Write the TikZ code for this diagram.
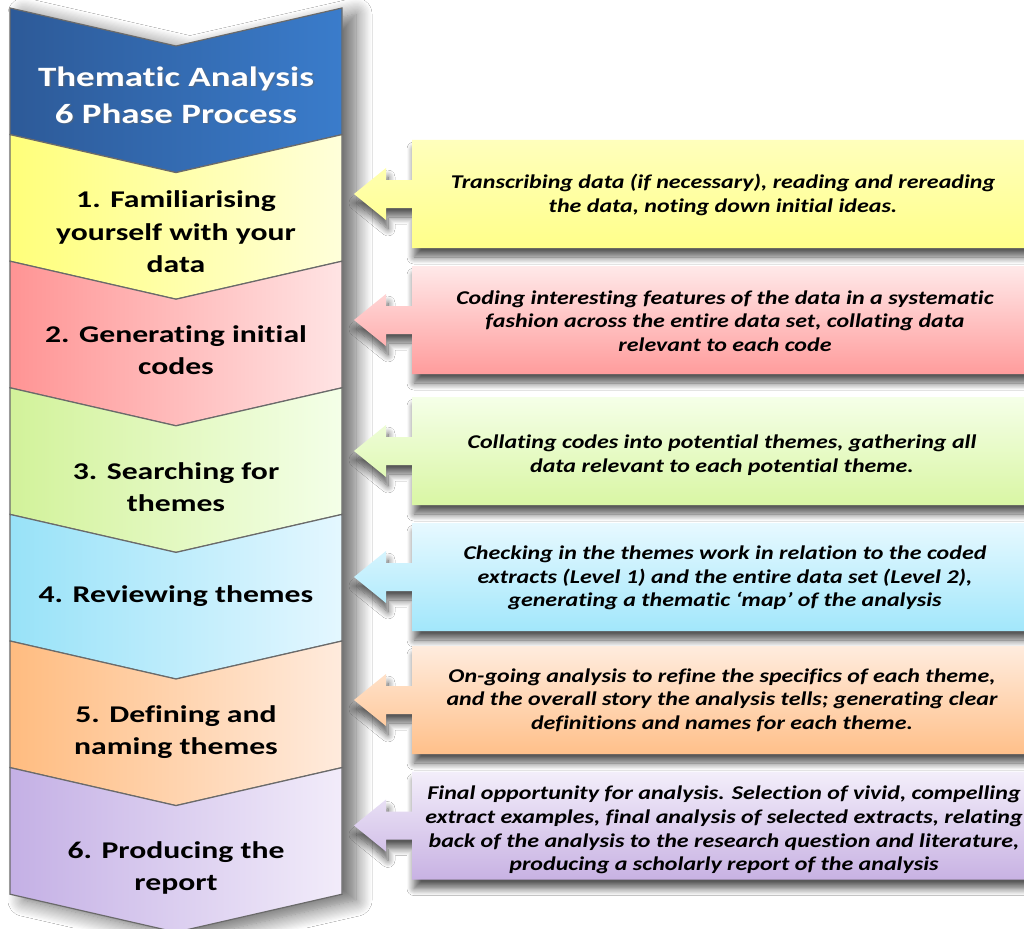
\documentclass[tikz,border=0pt]{standalone}
\usepackage{fontspec}
\setmainfont{Carlito}
\newfontfamily\chevfont[FakeStretch=1.32, Ligatures=NoCommon]{Carlito}
\newfontfamily\descfont[FakeStretch=1.23, Ligatures=NoCommon]{Carlito}
\usetikzlibrary{shadows.blur}
\definecolor{blueL}{HTML}{2D5A98}
\definecolor{blueR}{HTML}{3A7CCB}
\definecolor{yelL}{HTML}{FFFF7A}
\definecolor{yelR}{HTML}{FFFFDA}
\definecolor{pinkL}{HTML}{FF9494}
\definecolor{pinkR}{HTML}{FFE4E4}
\definecolor{grnL}{HTML}{D2F29A}
\definecolor{grnR}{HTML}{F4FFE8}
\definecolor{cyaL}{HTML}{98E2F8}
\definecolor{cyaR}{HTML}{E4F7FF}
\definecolor{oraL}{HTML}{FFBC80}
\definecolor{oraR}{HTML}{FFEBDD}
\definecolor{purL}{HTML}{C4B0E5}
\definecolor{purR}{HTML}{F2ECFA}
\definecolor{yelT}{HTML}{FFFFBC}
\definecolor{yelB}{HTML}{FFFF8A}
\definecolor{pinkT}{HTML}{FFE9E9}
\definecolor{pinkB}{HTML}{FF9C9C}
\definecolor{grnT}{HTML}{F5FFE8}
\definecolor{grnB}{HTML}{D9F6A4}
\definecolor{cyaT}{HTML}{E7F9FF}
\definecolor{cyaB}{HTML}{A2E7FB}
\definecolor{oraT}{HTML}{FFECDE}
\definecolor{oraB}{HTML}{FFC08A}
\definecolor{purT}{HTML}{F3EEFA}
\definecolor{purB}{HTML}{C8B2E3}
\definecolor{edgegray}{HTML}{6A6A6A}
\tikzset{
  chevstyle/.style={draw=edgegray, line width=1.2pt, line join=miter},
  boxstyle/.style={blur shadow={shadow xshift=2pt, shadow yshift=-9pt, shadow blur radius=7pt, shadow blur steps=10, shadow opacity=65}},
  phasetext/.style={align=center, text=black, font=\chevfont\bfseries\fontsize{24}{32.5}\selectfont},
  titletext/.style={align=center, text=white, font=\chevfont\bfseries\fontsize{28}{37}\selectfont},
  desctext/.style={align=center, text=black, font=\descfont\bfseries\itshape\fontsize{19.5}{23.6}\selectfont}
}
\newcommand\chevshape[3]{%
  \path[chevstyle, left color=#2, right color=#3]
    (10,#1) -- (176,{#1+38}) -- (342,#1) -- (342,{#1+126.6}) -- (176,{#1+164.6}) -- (10,{#1+126.6}) -- cycle;}
\newcommand\descbox[3]{%
  \path[boxstyle, top color=#2, bottom color=#3]
    (354,#1) -- (386,{#1-26}) -- (386,{#1-14}) -- (412,{#1-14}) -- (412,{#1-54}) -- (1060,{#1-54})
    -- (1060,{#1+54}) -- (412,{#1+54}) -- (412,{#1+14}) -- (386,{#1+14}) -- (386,{#1+26}) -- cycle;}
\begin{document}
\begin{tikzpicture}[x=1pt, y=-1pt]
\useasboundingbox (0,0) rectangle (1024,928);
\clip (0,0) rectangle (1024,928);
\fill[white] (0,0) rectangle (1024,928);
% column shadow
\path[fill=white, blur shadow={shadow xshift=14pt, shadow yshift=-6pt, shadow blur radius=16pt, shadow blur steps=14, shadow opacity=60}]
  (10,8) -- (176,46) -- (342,8) -- (342,894.2) -- (176,932.2) -- (10,894.2) -- cycle;
% chevrons
\chevshape{8}{blueL}{blueR}
\chevshape{134.6}{yelL}{yelR}
\chevshape{261.2}{pinkL}{pinkR}
\chevshape{387.8}{grnL}{grnR}
\chevshape{514.4}{cyaL}{cyaR}
\chevshape{641}{oraL}{oraR}
\chevshape{767.6}{purL}{purR}
% chevron texts
\node[titletext, text=black!60, opacity=0.5] at (177.5,96.5) {Thematic Analysis\\6 Phase Process};
\node[titletext] (p0) at (176,95) {Thematic Analysis\\6 Phase Process};
\node[phasetext] (p1) at (176,232) {1. Familiarising\\yourself with your\\data};
\node[phasetext] (p2) at (176,350) {2. Generating initial\\codes};
\node[phasetext] (p3) at (176,487) {3. Searching for\\themes};
\node[phasetext] (p4) at (176,596) {4. Reviewing themes};
\node[phasetext] (p5) at (176,732) {5. Defining and\\naming themes};
\node[phasetext] (p6) at (176,868) {6. Producing the\\report};
% description boxes
\descbox{194}{yelT}{yelB}
\descbox{320}{pinkT}{pinkB}
\descbox{451}{grnT}{grnB}
\descbox{577}{cyaT}{cyaB}
\descbox{700}{oraT}{oraB}
\descbox{825.5}{purT}{purB}
\node[desctext] (d1) at (723,195) {Transcribing data (if necessary), reading and rereading\\the data, noting down initial ideas.};
\node[desctext] (d2) at (725,321) {Coding interesting features of the data in a systematic\\fashion across the entire data set, collating data\\relevant to each code};
\node[desctext] (d3) at (722,455) {Collating codes into potential themes, gathering all\\data relevant to each potential theme.};
\node[desctext] (d4) at (725,578) {Checking in the themes work in relation to the coded\\extracts (Level 1) and the entire data set (Level 2),\\generating a thematic ‘map’ of the analysis};
\node[desctext] (d5) at (722,700) {On-going analysis to refine the specifics of each theme,\\and the overall story the analysis tells; generating clear\\definitions and names for each theme.};
\node[desctext] (d6) at (724,830) {Final opportunity for analysis. Selection of vivid, compelling\\extract examples, final analysis of selected extracts, relating\\back of the analysis to the research question and literature,\\producing a scholarly report of the analysis};
\end{tikzpicture}
\end{document}
